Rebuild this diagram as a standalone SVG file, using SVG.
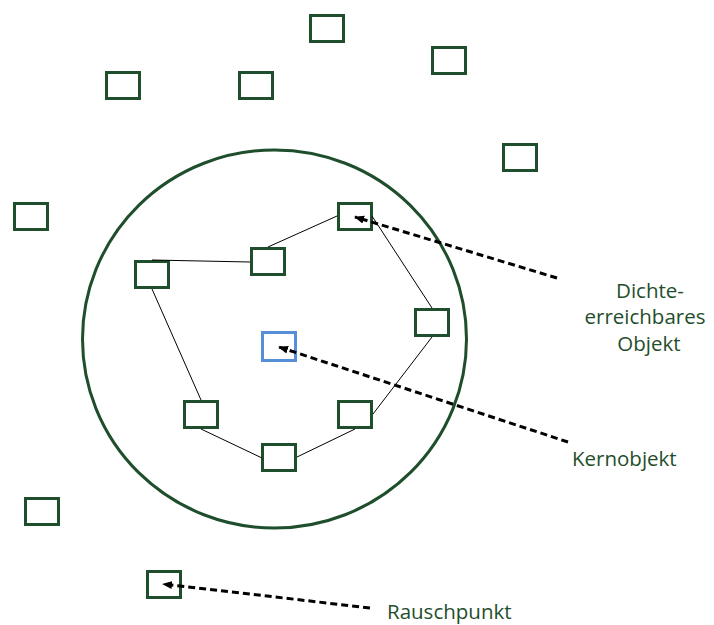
<svg xmlns="http://www.w3.org/2000/svg" width="714" height="625" viewBox="0 0 714 625">
  <style>
    .obj { fill: #ffffff; stroke: #1f4e2c; stroke-width: 3; }
    .core { fill: #ffffff; stroke: #568fd8; stroke-width: 3; }
    .link { stroke: #000000; stroke-width: 1; fill: none; }
    .ptr { stroke: #000000; stroke-width: 3; stroke-dasharray: 7 4; fill: none; marker-end: url(#tip); }
    .lbl { font-family: "Open Sans", "Noto Sans", sans-serif; font-size: 20.5px; fill: #1f4e2c; }
  </style>
  <defs>
    <marker id="tip" markerUnits="userSpaceOnUse" markerWidth="10" markerHeight="10" viewBox="0 0 10 10" refX="9" refY="5" orient="auto">
      <path d="M0,1 L10,5 L0,9 Z" fill="#000000"/>
    </marker>
  </defs>

  <!-- neighbourhood circle -->
  <ellipse id="eps-region" cx="274.5" cy="339" rx="192" ry="189" fill="none" stroke="#1f4e2c" stroke-width="3"/>

  <!-- objects -->
  <g id="n1"><rect class="obj" x="310.5" y="15.5" width="33" height="26"/></g>
  <g id="n2"><rect class="obj" x="432.5" y="47.5" width="33" height="26"/></g>
  <g id="n3"><rect class="obj" x="106.5" y="72.5" width="33" height="26"/></g>
  <g id="n4"><rect class="obj" x="239.5" y="72.5" width="33" height="26"/></g>
  <g id="n5"><rect class="obj" x="503.5" y="144.5" width="33" height="26"/></g>
  <g id="n6"><rect class="obj" x="14.5" y="203.5" width="33" height="26"/></g>
  <g id="n7"><rect class="obj" x="338.5" y="203.5" width="33" height="26"/></g>
  <g id="n8"><rect class="obj" x="251.5" y="248.5" width="33" height="26"/></g>
  <g id="n9"><rect class="obj" x="135.5" y="261.5" width="33" height="26"/></g>
  <g id="n10"><rect class="obj" x="415.5" y="309.5" width="33" height="26"/></g>
  <g id="core"><rect class="core" x="262.5" y="332.5" width="33" height="28"/></g>
  <g id="n11"><rect class="obj" x="184.5" y="401.5" width="33" height="26"/></g>
  <g id="n12"><rect class="obj" x="338.5" y="401.5" width="33" height="26"/></g>
  <g id="n13"><rect class="obj" x="262.5" y="444.5" width="33" height="26"/></g>
  <g id="n14"><rect class="obj" x="25.5" y="498.5" width="33" height="26"/></g>
  <g id="noise"><rect class="obj" x="147.5" y="571.5" width="33" height="26"/></g>

  <!-- chain of density-reachable objects and label pointers -->
  <g id="connectors">
    <line class="link" x1="337" y1="216" x2="268" y2="247"/>
    <line class="link" x1="152" y1="260" x2="250" y2="262"/>
    <line class="link" x1="152" y1="289" x2="201" y2="400"/>
    <line class="link" x1="201" y1="429" x2="262" y2="458"/>
    <line class="link" x1="297" y1="457" x2="355" y2="429"/>
    <line class="link" x1="373" y1="414" x2="432" y2="337"/>
    <line class="link" x1="432" y1="308" x2="372" y2="216"/>
    <line class="ptr" x1="557" y1="278" x2="355" y2="217"/>
    <line class="ptr" x1="568" y1="442" x2="279" y2="347"/>
    <line class="ptr" x1="370" y1="608" x2="163" y2="584"/>
  </g>

  <!-- labels -->
  <g id="label-reachable">
    <text class="lbl" x="650" y="298" text-anchor="middle">Dichte-</text>
    <text class="lbl" x="645" y="324" text-anchor="middle">erreichbares</text>
    <text class="lbl" x="649" y="351" text-anchor="middle">Objekt</text>
  </g>
  <g id="label-core"><text class="lbl" x="572" y="466">Kernobjekt</text></g>
  <g id="label-noise"><text class="lbl" x="387" y="619">Rauschpunkt</text></g>
</svg>
